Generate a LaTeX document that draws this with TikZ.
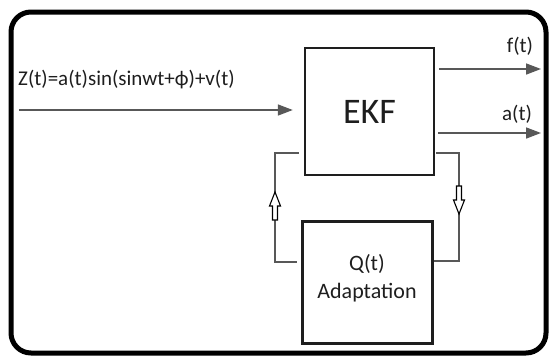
\documentclass[tikz,border=0pt]{standalone}
\usepackage{fontspec}
\setmainfont{Carlito}
\usepackage{tikz}
\usetikzlibrary{positioning, arrows.meta, calc}
\definecolor{linegray}{HTML}{585858}
\definecolor{txtcolor}{HTML}{1E1E1E}
\tikzset{
    blocknode/.style = {draw=txtcolor, line width=2.4pt, inner sep=0pt, align=center,
                        text=txtcolor},
    sigedge/.style   = {-{Triangle[length=15pt, width=11pt]}, line width=1.6pt, linegray},
    fbedge/.style    = {line width=1.5pt, linegray},
    siglbl/.style    = {font=\fontsize{21}{26}\selectfont, text=txtcolor, inner sep=0pt},
    hollowtip/.pic   = {\draw[black, line width=1.1pt, fill=white, line join=miter]
                        (-2.5,14) -- (-2.5,0) -- (-5.5,0) -- (0,-14) -- (5.5,0)
                        -- (2.5,0) -- (2.5,14) -- cycle;},
}
\begin{document}
\begin{tikzpicture}[x=1pt, y=-1pt]
\useasboundingbox (0,0) rectangle (553,356);

% outer frame
\draw[line width=5pt, rounded corners=20pt] (11,12) rectangle (546,353);

\node[blocknode, minimum width=129pt, minimum height=127pt,
      font=\fontsize{36}{40}\selectfont] (ekf) at (369.5,111.5) {EKF};
\node[blocknode, line width=3pt, minimum width=130pt, minimum height=122pt,
      font=\fontsize{22}{28}\selectfont, text depth=12pt] (qa) at (367,282) {Q(t)\\Adaptation};

% input and outputs
\coordinate (zin) at (19,110);
\coordinate (fout) at (541,69);
\coordinate (aout) at (541,133);
\draw[sigedge, shorten >=11pt] (zin) -- (ekf.west |- zin);
\draw[sigedge, shorten <=4pt] (ekf.east |- fout) -- (fout);
\draw[sigedge, shorten <=3pt] (ekf.east |- aout) -- (aout);

\node[siglbl, anchor=west] (zlbl) at (18,80) {Z(t)=a(t)sin(sinwt+ϕ)+v(t)};
\node[siglbl] (flbl) at (520,46) {f(t)};
\node[siglbl] (albl) at (517,114) {a(t)};

% adaptation loop
\coordinate (lt) at (275,153);
\coordinate (lb) at (275,262);
\coordinate (rt) at (459,153);
\coordinate (rb) at (459,261);
\draw[fbedge, shorten <=5pt, shorten >=4pt] (ekf.west |- lt) -- (lt) -- (lb) -- (qa.west |- lb);
\draw[fbedge, shorten <=1pt] (ekf.east |- rt) -- (rt) -- (rb) -- (qa.east |- rb);

\pic at (275,206) {hollowtip};
\pic[rotate=180] at (459,200) {hollowtip};

\end{tikzpicture}
\end{document}
